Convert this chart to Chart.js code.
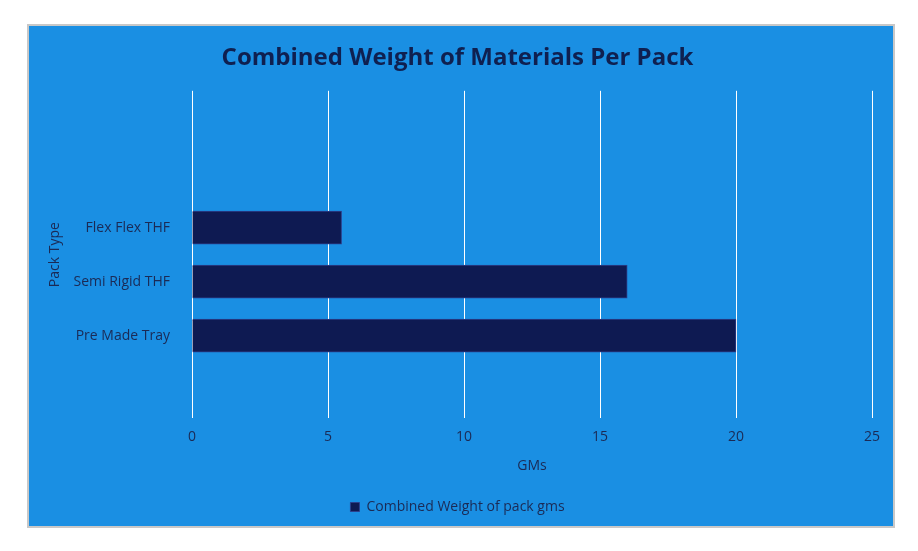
<!DOCTYPE html>
<html>
<head>
<meta charset="utf-8">
<script src="https://cdn.jsdelivr.net/npm/chart.js@4"></script>
<style>
  body { margin: 0; background: #fff; }
  #box { position: absolute; left: 27px; top: 24px; width: 864px; height: 500px;
         border: 2px solid #c8c8c8; background: #1a8fe3; }
</style>
</head>
<body>
<div id="box"><canvas id="myChart" width="864" height="500"></canvas></div>
<script>
const categories = ['Flex Flex THF', 'Semi Rigid THF', 'Pre Made Tray'];
const weights = [5.5, 16, 20];
const seriesName = 'Combined Weight of pack gms';

const points = weights.map((w, i) => ({ x: w, y: i }));

const ctx = document.getElementById('myChart').getContext('2d');
const myChart = new Chart(ctx, {
    type: 'bar',
    data: {
        datasets: [{
            label: seriesName,
            data: points,
            backgroundColor: '#0e1a52',
            borderColor: '#2b3f8c',
            borderWidth: 1,
            barThickness: 33
        }]
    },
    options: {
        indexAxis: 'y',
        responsive: false,
        animation: false,
        layout: { padding: { left: 14, right: 21, top: 8, bottom: 2 } },
        plugins: {
            title: {
                display: true,
                text: 'Combined Weight of Materials Per Pack',
                color: '#0f2050',
                font: { family: 'Open Sans', size: 24, weight: 'bold' },
                padding: { top: 10, bottom: 18 }
            },
            legend: {
                position: 'bottom',
                labels: {
                    color: '#1b2a55', boxWidth: 9, boxHeight: 9,
                    font: { family: 'Open Sans', size: 14 }
                }
            },
            tooltip: { enabled: false }
        },
        scales: {
            x: {
                min: 0, max: 25,
                ticks: { stepSize: 5, color: '#1b2a55', font: { family: 'Open Sans', size: 14 }, padding: 10 },
                grid: { color: '#ffffff', drawTicks: false },
                border: { display: false },
                title: { display: true, text: 'GMs', color: '#1b2a55', font: { family: 'Open Sans', size: 14 }, padding: { top: 2, bottom: 16 } }
            },
            y: {
                type: 'linear',
                reverse: true,
                min: -1.52, max: 2.52,
                afterBuildTicks: (s) => { s.ticks = categories.map((c, i) => ({ value: i })); },
                ticks: {
                    color: '#1b2a55', font: { family: 'Open Sans', size: 14 }, padding: 14,
                    callback: (v) => categories[v] ?? ''
                },
                grid: { display: false },
                border: { display: false },
                title: { display: true, text: 'Pack Type', color: '#1b2a55', font: { family: 'Open Sans', size: 14 } },
                afterFit: (s) => { s.width = 149; }
            }
        }
    }
});
</script>
</body>
</html>
